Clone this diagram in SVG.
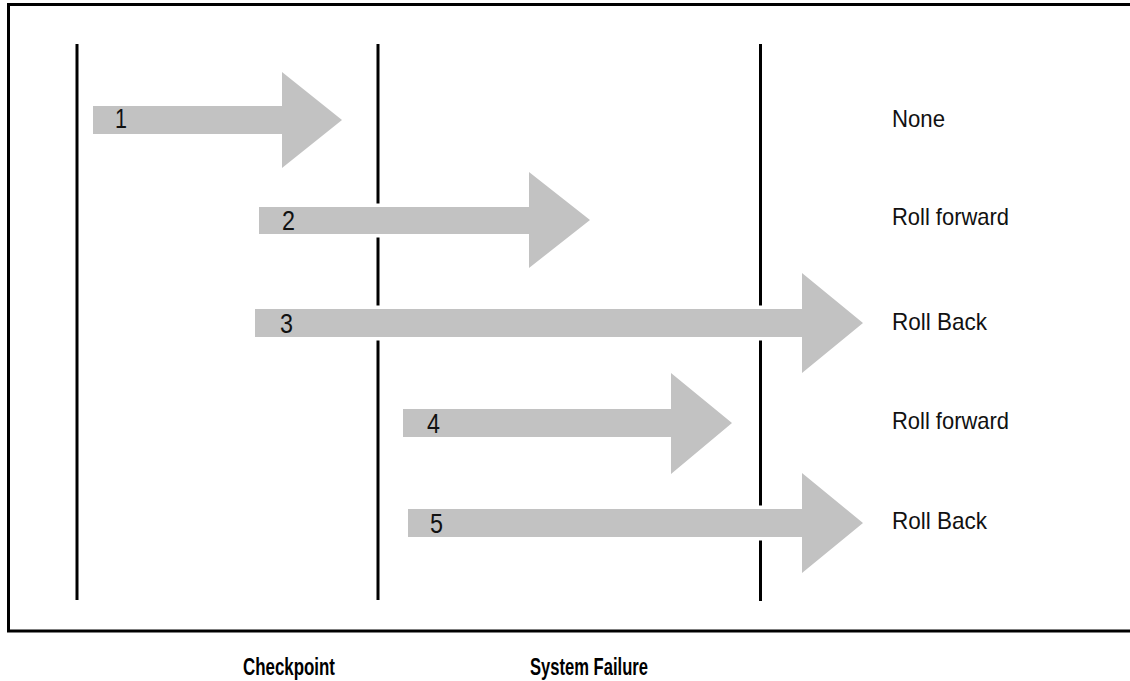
<svg xmlns="http://www.w3.org/2000/svg" width="1130" height="681" viewBox="0 0 1130 681">
<style>
.frame{fill:none;stroke:#000;stroke-width:3}
.vline{stroke:#000;stroke-width:3}
.arrow{fill:#c2c2c2;stroke:#fff;stroke-width:7;paint-order:stroke fill;stroke-linejoin:miter}
.num{font-family:"Liberation Sans",Arial,sans-serif;font-size:27px;fill:#111}
.lbl{font-family:"Liberation Sans",Arial,sans-serif;font-size:24px;fill:#111}
.axis{font-family:"Liberation Sans",Arial,sans-serif;font-size:23px;font-weight:bold;fill:#000}
</style>
<rect width="1130" height="681" fill="#fff"/>
<g id="frame">
<path class="frame" d="M1135,4.5 H8.5 V631 H1135"/>
</g>
<g id="timelines">
<line class="vline" x1="77" y1="44" x2="77" y2="600"/>
<line class="vline" x1="378" y1="44" x2="378" y2="600"/>
<line class="vline" x1="760.5" y1="44" x2="760.5" y2="601"/>
</g>
<g id="connectors">
<g id="arrow1">
<polygon class="arrow" points="93,106 282,106 282,72 342,120 282,168 282,134 93,134"/>
<text class="num" x="115" y="128" textLength="12" lengthAdjust="spacingAndGlyphs">1</text>
</g>
<g id="arrow2">
<polygon class="arrow" points="259,207 529,207 529,172 590,220 529,268 529,234 259,234"/>
<text class="num" x="282" y="230" textLength="13" lengthAdjust="spacingAndGlyphs">2</text>
</g>
<g id="arrow3">
<polygon class="arrow" points="255,309 802,309 802,273 863,323 802,373 802,337 255,337"/>
<text class="num" x="280" y="333" textLength="13" lengthAdjust="spacingAndGlyphs">3</text>
</g>
<g id="arrow4">
<polygon class="arrow" points="403,409 671,409 671,373 732,423 671,474 671,437 403,437"/>
<text class="num" x="427" y="433" textLength="13" lengthAdjust="spacingAndGlyphs">4</text>
</g>
<g id="arrow5">
<polygon class="arrow" points="408,509 802,509 802,473 863,523 802,573 802,537 408,537"/>
<text class="num" x="430" y="533" textLength="13" lengthAdjust="spacingAndGlyphs">5</text>
</g>
</g>
<g id="outcomes">
<text class="lbl" x="892" y="127" textLength="53" lengthAdjust="spacingAndGlyphs">None</text>
<text class="lbl" x="892" y="225" textLength="117" lengthAdjust="spacingAndGlyphs">Roll forward</text>
<text class="lbl" x="892" y="330" textLength="95" lengthAdjust="spacingAndGlyphs">Roll Back</text>
<text class="lbl" x="892" y="429" textLength="117" lengthAdjust="spacingAndGlyphs">Roll forward</text>
<text class="lbl" x="892" y="529" textLength="95" lengthAdjust="spacingAndGlyphs">Roll Back</text>
</g>
<g id="axis-labels">
<text class="axis" x="243" y="675" textLength="92" lengthAdjust="spacingAndGlyphs">Checkpoint</text>
<text class="axis" x="530" y="675" textLength="118" lengthAdjust="spacingAndGlyphs">System Failure</text>
</g>
</svg>
